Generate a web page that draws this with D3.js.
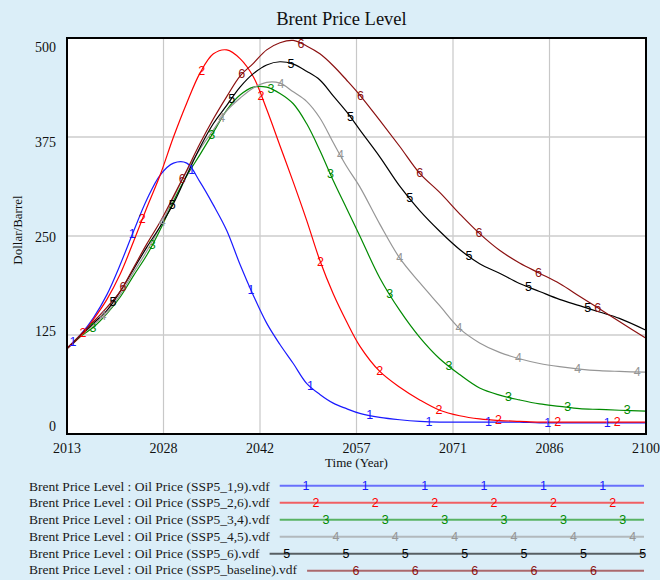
<!DOCTYPE html>
<html>
<head>
<meta charset="utf-8">
<title>Brent Price Level</title>
<script src="https://d3js.org/d3.v7.min.js"></script>
<style>
  html, body { margin: 0; padding: 0; background: #dbeef8; }
  svg { display: block; font-family: "Liberation Serif", "Times New Roman", serif; }
</style>
</head>
<body>
<svg id="chart" width="660" height="580"></svg>
<script>
// values (Dollar/Barrel)
var years = [2013, 2015, 2017, 2019, 2021, 2023, 2025, 2027, 2029, 2031, 2033, 2035, 2037, 2039, 2041, 2043, 2045, 2047, 2049, 2051, 2053, 2055, 2057, 2060, 2063, 2066, 2069, 2072, 2075, 2078, 2081, 2084, 2087, 2090, 2093, 2096, 2100];
var ssp1_9 = [108, 125, 147, 176, 214, 256, 296, 327, 342, 342, 318, 289, 257, 214, 175, 140, 113, 89, 64, 50, 39, 32, 26, 21, 18, 16, 15, 15, 15, 15, 15, 14, 14, 14, 14, 14, 14];
var ssp2_6 = [108, 123, 145, 170, 202, 243, 286, 327, 375, 418, 456, 480, 485, 474, 451, 410, 364, 318, 270, 219, 177, 142, 111, 79, 59, 43, 30, 23, 19, 17, 16, 15, 15, 15, 15, 15, 15];
var ssp3_4 = [108, 123, 135, 152, 173, 200, 226, 258, 294, 326, 353, 381, 409, 428, 438, 438, 430, 417, 392, 358, 320, 285, 250, 197, 156, 122, 95, 75, 58, 49, 43, 38, 35, 32, 31, 30, 29];
var ssp4_5 = [108, 124, 138, 153, 176, 204, 231, 262, 298, 332, 360, 384, 408, 424, 437, 444, 443, 432, 420, 399, 368, 338, 312, 265, 222, 191, 162, 133, 115, 103, 95, 89, 85, 82, 80, 79, 78];
var ssp5_6 = [108, 124, 140, 156, 180, 208, 236, 262, 291, 327, 362, 392, 415, 438, 455, 466, 470, 467, 458, 447, 427, 407, 384, 350, 313, 282, 256, 233, 215, 203, 190, 180, 170, 162, 154, 146, 131];
var sspBase = [108, 125, 142, 160, 180, 210, 240, 268, 300, 333, 367, 398, 426, 452, 468, 485, 494, 497, 490, 480, 465, 447, 428, 396, 363, 329, 305, 278, 253, 232, 216, 203, 190, 174, 158, 142, 121];

var seriesNames = ["SSP5_1,9", "SSP5_2,6", "SSP5_3,4", "SSP5_4,5", "SSP5_6", "SSP5_baseline"];
var seriesValues = [ssp1_9, ssp2_6, ssp3_4, ssp4_5, ssp5_6, sspBase];
var seriesColors = ["#1a1aff", "#ff0000", "#008a00", "#969696", "#000000", "#8b1010"];

var xTickLabels = ["2013", "2028", "2042", "2057", "2071", "2086", "2100"];
var yTicks = [0, 125, 250, 375, 500];

var svg = d3.select("#chart");
var plotL = 67, plotR = 646, plotT = 38, plotB = 434;

var x = d3.scaleLinear().domain([2013, 2100]).range([plotL, plotR]);
var y = d3.scaleLinear().domain([0, 500]).range([plotB, plotT]);
// labels on the value axis sit a little inside the frame
var yLabel = d3.scaleLinear().domain([0, 500]).range([plotB - 3, plotT + 14]);

// title
svg.append("text")
  .attr("x", 341.5).attr("y", 25)
  .attr("text-anchor", "middle")
  .attr("font-size", 18.5)
  .attr("fill", "#111")
  .text("Brent Price Level");

// plot background
svg.append("rect")
  .attr("x", plotL).attr("y", plotT)
  .attr("width", plotR - plotL).attr("height", plotB - plotT)
  .attr("fill", "#fff");

// grid
var xTickVals = d3.range(7).map(function (i) { return 2013 + i * 87 / 6; });
svg.append("g").selectAll("line")
  .data(xTickVals.slice(1, -1))
  .join("line")
  .attr("x1", function (d) { return x(d); }).attr("x2", function (d) { return x(d); })
  .attr("y1", plotT).attr("y2", plotB)
  .attr("stroke", "#c8c8c8").attr("stroke-width", 1.2);
svg.append("g").selectAll("line")
  .data(yTicks.slice(1, -1))
  .join("line")
  .attr("x1", plotL).attr("x2", plotR)
  .attr("y1", function (d) { return y(d); }).attr("y2", function (d) { return y(d); })
  .attr("stroke", "#cccccc").attr("stroke-width", 1.5);

// tick labels
svg.append("g").selectAll("text")
  .data(xTickVals)
  .join("text")
  .attr("x", function (d) { return x(d); })
  .attr("y", 453)
  .attr("text-anchor", "middle")
  .attr("font-size", 14)
  .attr("fill", "#111")
  .text(function (d, i) { return xTickLabels[i]; });
svg.append("g").selectAll("text")
  .data(yTicks)
  .join("text")
  .attr("x", 56)
  .attr("y", function (d) { return yLabel(d); })
  .attr("text-anchor", "end")
  .attr("font-size", 14)
  .attr("fill", "#111")
  .text(function (d) { return d; });

// axis titles
svg.append("text")
  .attr("x", 356.5).attr("y", 467)
  .attr("text-anchor", "middle")
  .attr("font-size", 13)
  .attr("fill", "#111")
  .text("Time (Year)");
svg.append("text")
  .attr("transform", "translate(22,230) rotate(-90)")
  .attr("text-anchor", "middle")
  .attr("font-size", 13)
  .attr("fill", "#111")
  .text("Dollar/Barrel");

// lines
var line = d3.line()
  .x(function (d, i) { return x(years[i]); })
  .y(function (d) { return y(d); })
  .curve(d3.curveCatmullRom.alpha(0.5));

var plot = svg.append("g");
seriesValues.forEach(function (vals, k) {
  plot.append("path")
    .attr("d", line(vals))
    .attr("fill", "none")
    .attr("stroke", seriesColors[k])
    .attr("stroke-width", 1.2);
});

// numbered markers along each line
function valueAt(vals, t) {
  for (var i = 0; i < years.length - 1; i++) {
    if (t >= years[i] && t <= years[i + 1]) {
      var f = (t - years[i]) / (years[i + 1] - years[i]);
      return vals[i] + f * (vals[i + 1] - vals[i]);
    }
  }
  return vals[vals.length - 1];
}
var markStep = 59.35; // px between numbers
seriesValues.forEach(function (vals, k) {
  var pts = [];
  for (var px = plotL + 6 + 10 * k; px <= plotR + 1; px += markStep) {
    var t = x.invert(Math.min(px, plotR));
    pts.push([px, valueAt(vals, t)]);
  }
  plot.append("g").selectAll("text")
    .data(pts)
    .join("text")
    .attr("x", function (d) { return d[0]; })
    .attr("y", function (d) { return y(d[1]); })
    .attr("text-anchor", "middle")
    .attr("dominant-baseline", "central")
    .attr("font-family", "Liberation Sans, Arial, sans-serif")
    .attr("font-size", 12.5)
    .attr("fill", seriesColors[k])
    .text(k + 1);
});

// frame
svg.append("rect")
  .attr("x", plotL).attr("y", plotT)
  .attr("width", plotR - plotL).attr("height", plotB - plotT)
  .attr("fill", "none")
  .attr("stroke", "#000")
  .attr("stroke-width", 2);

// legend
var legend = svg.append("g");
seriesNames.forEach(function (name, k) {
  var ly = 490.7 + k * 16.7;
  var txt = legend.append("text")
    .attr("x", 29).attr("y", ly)
    .attr("font-size", 13.5)
    .attr("fill", "#1a1a1a")
    .text("Brent Price Level : Oil Price (" + name + ").vdf");
  var x0 = 29 + txt.node().getComputedTextLength() + 10;
  var lineY = 485.7 + k * 17;
  legend.append("line")
    .attr("x1", x0).attr("x2", 644)
    .attr("y1", lineY).attr("y2", lineY)
    .attr("stroke", seriesColors[k])
    .attr("stroke-opacity", 0.6)
    .attr("stroke-width", 2);
  var marks = [];
  for (var px = 306 + 10 * k - markStep; px <= 644; px += markStep) {
    if (px >= x0 + 4) marks.push(px);
  }
  legend.append("g").selectAll("text")
    .data(marks)
    .join("text")
    .attr("x", function (d) { return d; })
    .attr("y", lineY)
    .attr("text-anchor", "middle")
    .attr("dominant-baseline", "central")
    .attr("font-family", "Liberation Sans, Arial, sans-serif")
    .attr("font-size", 12.5)
    .attr("fill", seriesColors[k])
    .text(k + 1);
});
</script>
</body>
</html>
